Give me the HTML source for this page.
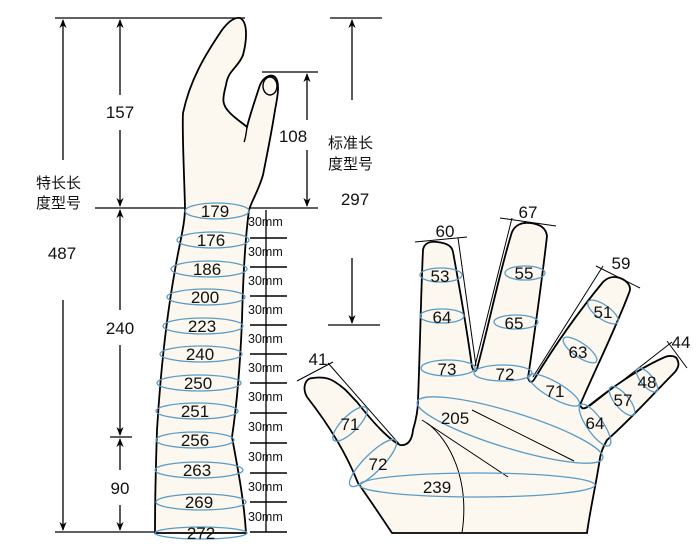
<!DOCTYPE html>
<html><head><meta charset="utf-8"><style>
html,body{margin:0;padding:0;background:#fff;}
svg{display:block;}
text{font-family:"Liberation Sans","Noto Sans CJK SC",sans-serif;fill:#111;}
.n{font-size:17px;text-anchor:middle;}
.m{font-size:12.5px;}
.c{font-size:15px;}
</style></head><body>
<svg width="700" height="557" viewBox="0 0 700 557" xmlns="http://www.w3.org/2000/svg">
<defs>
<marker id="a" viewBox="0 0 10 10" refX="9" refY="5" markerWidth="9" markerHeight="11" orient="auto-start-reverse" markerUnits="userSpaceOnUse"><path d="M0,1 L10,5 L0,9 L3,5 z" fill="#000"/></marker>
</defs>
<g stroke="#000" stroke-width="1.3" fill="none">
<line x1="55" y1="18" x2="245" y2="18"/>
<line x1="63" y1="160" x2="63" y2="20" marker-end="url(#a)"/>
<line x1="63" y1="300" x2="63" y2="530" marker-end="url(#a)"/>
<line x1="55" y1="532" x2="160" y2="532"/>
<line x1="120" y1="95" x2="120" y2="20" marker-end="url(#a)"/>
<line x1="120" y1="130" x2="120" y2="206" marker-end="url(#a)"/>
<line x1="95" y1="208" x2="185" y2="208"/>
<line x1="120" y1="310" x2="120" y2="210" marker-end="url(#a)"/>
<line x1="120" y1="345" x2="120" y2="435" marker-end="url(#a)"/>
<line x1="110" y1="437" x2="132" y2="437"/>
<line x1="120" y1="470" x2="120" y2="439" marker-end="url(#a)"/>
<line x1="120" y1="505" x2="120" y2="530" marker-end="url(#a)"/>
<line x1="262" y1="72" x2="318" y2="72"/>
<line x1="250" y1="208" x2="318" y2="208"/>
<line x1="307" y1="120" x2="307" y2="74" marker-end="url(#a)"/>
<line x1="307" y1="150" x2="307" y2="206" marker-end="url(#a)"/>
<line x1="330" y1="18" x2="382" y2="18"/>
<line x1="352" y1="100" x2="352" y2="20" marker-end="url(#a)"/>
<line x1="352" y1="258" x2="352" y2="323" marker-end="url(#a)"/>
<line x1="328" y1="325" x2="380" y2="325"/>
<line x1="266" y1="210" x2="266" y2="532"/>
<g stroke-width="1.6">
<line x1="250" y1="238" x2="287" y2="238"/><line x1="250" y1="267" x2="287" y2="267"/>
<line x1="250" y1="296" x2="287" y2="296"/><line x1="250" y1="325" x2="287" y2="325"/>
<line x1="250" y1="354" x2="287" y2="354"/><line x1="250" y1="383" x2="287" y2="383"/>
<line x1="250" y1="413" x2="287" y2="413"/><line x1="250" y1="443" x2="287" y2="443"/>
<line x1="250" y1="473" x2="287" y2="473"/><line x1="250" y1="502" x2="287" y2="502"/>
<line x1="250" y1="532" x2="287" y2="532"/>
</g>
</g>
<path d="M155,533 C155,500 156,460 157,430 C160,380 166,320 175,270 C180,240 185,225 185,207 C184,170 182,130 183,113 C190,80 205,55 222,30 C228,22 234,17 240,18 C248,22 247,40 243,55 C238,68 228,70 226,85 C222,100 222,105 230,113 C237,120 244,124 247,127 C250,115 255,100 260,85 C263,78 270,73 275,77 C280,82 278,95 275,110 C272,130 268,150 263,175 C258,192 252,200 249,210 C245,240 243,280 242,320 C240,370 236,410 232,437 C238,470 244,500 246,533 Z" fill="#fcf8f0" stroke="#000" stroke-width="1.8"/>
<ellipse cx="270" cy="86" rx="7" ry="9" fill="none" stroke="#000" stroke-width="1.4"/>
<path d="M247,127 C246,135 245,140 244,142" stroke="#000" fill="none" stroke-width="1.4"/>
<g fill="none" stroke="#5a9bc6" stroke-width="1.3">
<ellipse cx="217" cy="211" rx="32" ry="8"/>
<ellipse cx="213" cy="240" rx="36" ry="8"/>
<ellipse cx="209" cy="269" rx="38" ry="8"/>
<ellipse cx="206" cy="297" rx="39" ry="8"/>
<ellipse cx="203" cy="326" rx="40" ry="8"/>
<ellipse cx="201" cy="354" rx="41" ry="8"/>
<ellipse cx="199" cy="383" rx="42" ry="8"/>
<ellipse cx="197" cy="411" rx="41" ry="8"/>
<ellipse cx="195" cy="440" rx="39" ry="8"/>
<ellipse cx="199" cy="470" rx="44" ry="8"/>
<ellipse cx="201" cy="502" rx="45" ry="8"/>
<ellipse cx="201" cy="533" rx="46" ry="6"/>
</g>
<g>
<text x="215" y="217" class="n">179</text><text x="211" y="246" class="n">176</text>
<text x="207" y="275" class="n">186</text><text x="205" y="303" class="n">200</text>
<text x="202" y="332" class="n">223</text><text x="200" y="360" class="n">240</text>
<text x="198" y="389" class="n">250</text><text x="195" y="417" class="n">251</text>
<text x="195" y="446" class="n">256</text><text x="197" y="476" class="n">263</text>
<text x="199" y="508" class="n">269</text><text x="201" y="539" class="n">272</text>
</g>
<g>
<text x="248" y="226" class="m">30mm</text><text x="248" y="256" class="m">30mm</text>
<text x="248" y="285" class="m">30mm</text><text x="248" y="314" class="m">30mm</text>
<text x="248" y="343" class="m">30mm</text><text x="248" y="372" class="m">30mm</text>
<text x="248" y="401" class="m">30mm</text><text x="248" y="431" class="m">30mm</text>
<text x="248" y="461" class="m">30mm</text><text x="248" y="491" class="m">30mm</text>
<text x="248" y="521" class="m">30mm</text>
</g>
<text x="120" y="118" class="n">157</text>
<text x="62" y="259" class="n">487</text>
<text x="120" y="334" class="n">240</text>
<text x="120" y="494" class="n">90</text>
<text x="36" y="188" class="c">特长长</text>
<text x="36" y="208" class="c">度型号</text>
<text x="293" y="142" class="n">108</text>
<text x="328" y="148" class="c">标准长</text>
<text x="328" y="169" class="c">度型号</text>
<text x="355" y="205" class="n">297</text>
<path d="M392,533 C380,515 370,500 358,483 C345,450 325,420 307,397 C302,388 305,378 313,378 C320,377 328,377 335,382 C345,388 350,395 357,402 C375,425 390,440 400,445 C408,446 412,440 413,430 C416,420 418,410 418,400 C420,350 421,290 423,250 C424,243 430,241 437,242 C447,243 452,246 453,252 C460,290 467,330 472,367 C474,373 477,372 478,365 C490,320 500,270 512,232 C515,225 522,222 530,223 C540,224 546,228 547,236 C542,280 535,330 528,378 C530,384 533,382 535,378 C555,345 580,310 603,282 C608,277 614,276 620,278 C628,281 632,287 629,293 C615,330 595,370 580,405 C582,410 585,409 590,405 C615,385 640,368 665,357 C670,355 676,356 677,359 C680,364 678,368 675,372 C655,392 630,420 607,440 C603,447 601,452 600,458 C596,485 590,510 587,533 Z" fill="#fcf8f0" stroke="#000" stroke-width="1.8"/>
<g stroke="#000" stroke-width="1" fill="none">
<line x1="415" y1="242" x2="467" y2="237"/>
<line x1="458" y1="238" x2="476" y2="366"/>
<line x1="500" y1="218" x2="556" y2="226"/>
<line x1="512" y1="218" x2="475" y2="366"/>
<line x1="596" y1="266" x2="640" y2="288"/>
<line x1="603" y1="266" x2="533" y2="377"/>
<line x1="667" y1="341" x2="687" y2="368"/>
<line x1="672" y1="342" x2="590" y2="406"/>
<line x1="297" y1="381" x2="333" y2="362"/>
<line x1="328" y1="363" x2="400" y2="445"/>
<line x1="472" y1="410" x2="574" y2="461"/>
<line x1="422" y1="420" x2="508" y2="477"/>
<path d="M427,423 C450,440 470,480 462,533"/>
</g>
<g fill="none" stroke="#5a9bc6" stroke-width="1.3">
<ellipse cx="441" cy="275" rx="21" ry="7"/>
<ellipse cx="442" cy="316" rx="22" ry="7"/>
<ellipse cx="448" cy="368" rx="27" ry="8"/>
<ellipse cx="525" cy="273" rx="20" ry="7"/>
<ellipse cx="516" cy="322" rx="22" ry="7"/>
<ellipse cx="503" cy="373" rx="29" ry="8"/>
<ellipse cx="603" cy="312" rx="18" ry="7" transform="rotate(35 603 312)"/>
<ellipse cx="580" cy="350" rx="20" ry="7" transform="rotate(35 580 350)"/>
<ellipse cx="554" cy="390" rx="29" ry="8" transform="rotate(30 554 390)"/>
<ellipse cx="647" cy="380" rx="15" ry="6" transform="rotate(50 647 380)"/>
<ellipse cx="622" cy="401" rx="18" ry="7" transform="rotate(50 622 401)"/>
<ellipse cx="595" cy="425" rx="25" ry="8" transform="rotate(55 595 425)"/>
<ellipse cx="350" cy="424" rx="23" ry="8" transform="rotate(-45 350 424)"/>
<ellipse cx="373" cy="463" rx="32" ry="9" transform="rotate(-45 373 463)"/>
<ellipse cx="510" cy="430" rx="97" ry="18" transform="rotate(17 510 430)"/>
<ellipse cx="477" cy="485" rx="118" ry="12"/>
</g>
<g>
<text x="440" y="282" class="n">53</text><text x="442" y="323" class="n">64</text>
<text x="447" y="375" class="n">73</text><text x="524" y="279" class="n">55</text>
<text x="514" y="329" class="n">65</text><text x="505" y="380" class="n">72</text>
<text x="603" y="318" class="n">51</text><text x="578" y="358" class="n">63</text>
<text x="555" y="397" class="n">71</text><text x="647" y="388" class="n">48</text>
<text x="623" y="406" class="n">57</text><text x="595" y="429" class="n">64</text>
<text x="350" y="430" class="n">71</text><text x="378" y="470" class="n">72</text>
<text x="455" y="424" class="n">205</text><text x="437" y="493" class="n">239</text>
<text x="445" y="237" class="n">60</text><text x="528" y="218" class="n">67</text>
<text x="621" y="269" class="n">59</text><text x="681" y="348" class="n">44</text>
<text x="318" y="365" class="n">41</text>
</g>
</svg>
</body></html>
